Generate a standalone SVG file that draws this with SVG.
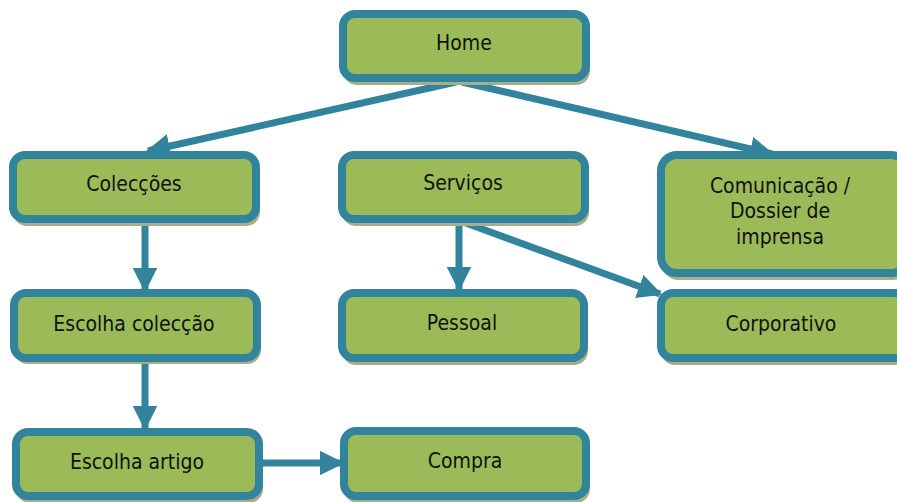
<svg xmlns="http://www.w3.org/2000/svg" width="897" height="502" viewBox="0 0 897 502">
  <defs>
    <style>
      .box { fill: #9bbb59; stroke: #31849b; stroke-width: 8; }
      .shadow { fill: #a6ad8c; }
      .lbl { font-family: "DejaVu Sans Condensed", "DejaVu Sans", "Liberation Sans", sans-serif; font-stretch: condensed; font-size: 21px; fill: #111; text-anchor: middle; }
      .link { stroke: #31849b; stroke-width: 7; fill: none; }
      .head { fill: #31849b; }
    </style>
    <marker id="arrow" viewBox="0 0 10 10" refX="9" refY="5" markerWidth="3.5" markerHeight="3.5" markerUnits="strokeWidth" orient="auto">
      <path class="head" d="M0,0 L10,5 L0,10 Z"/>
    </marker>
  </defs>
  <rect width="897" height="502" fill="#ffffff"/>

  <!-- connectors -->
  <g id="connectors">
    <path class="link" d="M456,82 L148,151" marker-end="url(#arrow)"/>
    <path class="link" d="M462,82 L772,154" marker-end="url(#arrow)"/>
    <path class="link" d="M145,223 L145,290" marker-end="url(#arrow)"/>
    <path class="link" d="M145,362 L145,428" marker-end="url(#arrow)"/>
    <path class="link" d="M459,222 L459,289" marker-end="url(#arrow)"/>
    <path class="link" d="M463,222 L660,294" marker-end="url(#arrow)"/>
    <path class="link" d="M262,463 L342,463" marker-end="url(#arrow)"/>
  </g>

  <g id="home">
    <rect class="shadow" x="343" y="17" width="247" height="68" rx="14"/>
    <rect class="box" x="343" y="14" width="243" height="64" rx="12"/>
    <text class="lbl" x="464" y="50">Home</text>
  </g>

  <g id="coleccoes">
    <rect class="shadow" x="13" y="158" width="247" height="68" rx="14"/>
    <rect class="box" x="13" y="155" width="243" height="64" rx="12"/>
    <text class="lbl" x="134" y="191">Colecções</text>
  </g>

  <g id="servicos">
    <rect class="shadow" x="342" y="158" width="247" height="68" rx="14"/>
    <rect class="box" x="342" y="155" width="243" height="64" rx="12"/>
    <text class="lbl" x="463" y="190">Serviços</text>
  </g>

  <g id="comunicacao">
    <rect class="shadow" x="661" y="158" width="250" height="122" rx="18"/>
    <rect class="box" x="661" y="155" width="246" height="118" rx="16"/>
    <text class="lbl" x="780" y="193">Comunicação /</text>
    <text class="lbl" x="780" y="218">Dossier de</text>
    <text class="lbl" x="780" y="244">imprensa</text>
  </g>

  <g id="escolha-coleccao">
    <rect class="shadow" x="14" y="296" width="247" height="68" rx="14"/>
    <rect class="box" x="14" y="293" width="243" height="65" rx="12"/>
    <text class="lbl" x="134" y="331">Escolha colecção</text>
  </g>

  <g id="pessoal">
    <rect class="shadow" x="342" y="296" width="246" height="69" rx="14"/>
    <rect class="box" x="342" y="293" width="242" height="65" rx="12"/>
    <text class="lbl" x="462" y="330">Pessoal</text>
  </g>

  <g id="corporativo">
    <rect class="shadow" x="661" y="296" width="250" height="69" rx="14"/>
    <rect class="box" x="661" y="293" width="246" height="65" rx="12"/>
    <text class="lbl" x="781" y="331">Corporativo</text>
  </g>

  <g id="escolha-artigo">
    <rect class="shadow" x="16" y="435" width="247" height="68" rx="14"/>
    <rect class="box" x="16" y="432" width="243" height="64" rx="12"/>
    <text class="lbl" x="137" y="469">Escolha artigo</text>
  </g>

  <g id="compra">
    <rect class="shadow" x="344" y="434" width="246" height="69" rx="14"/>
    <rect class="box" x="344" y="431" width="242" height="65" rx="12"/>
    <text class="lbl" x="465" y="468">Compra</text>
  </g>
</svg>
